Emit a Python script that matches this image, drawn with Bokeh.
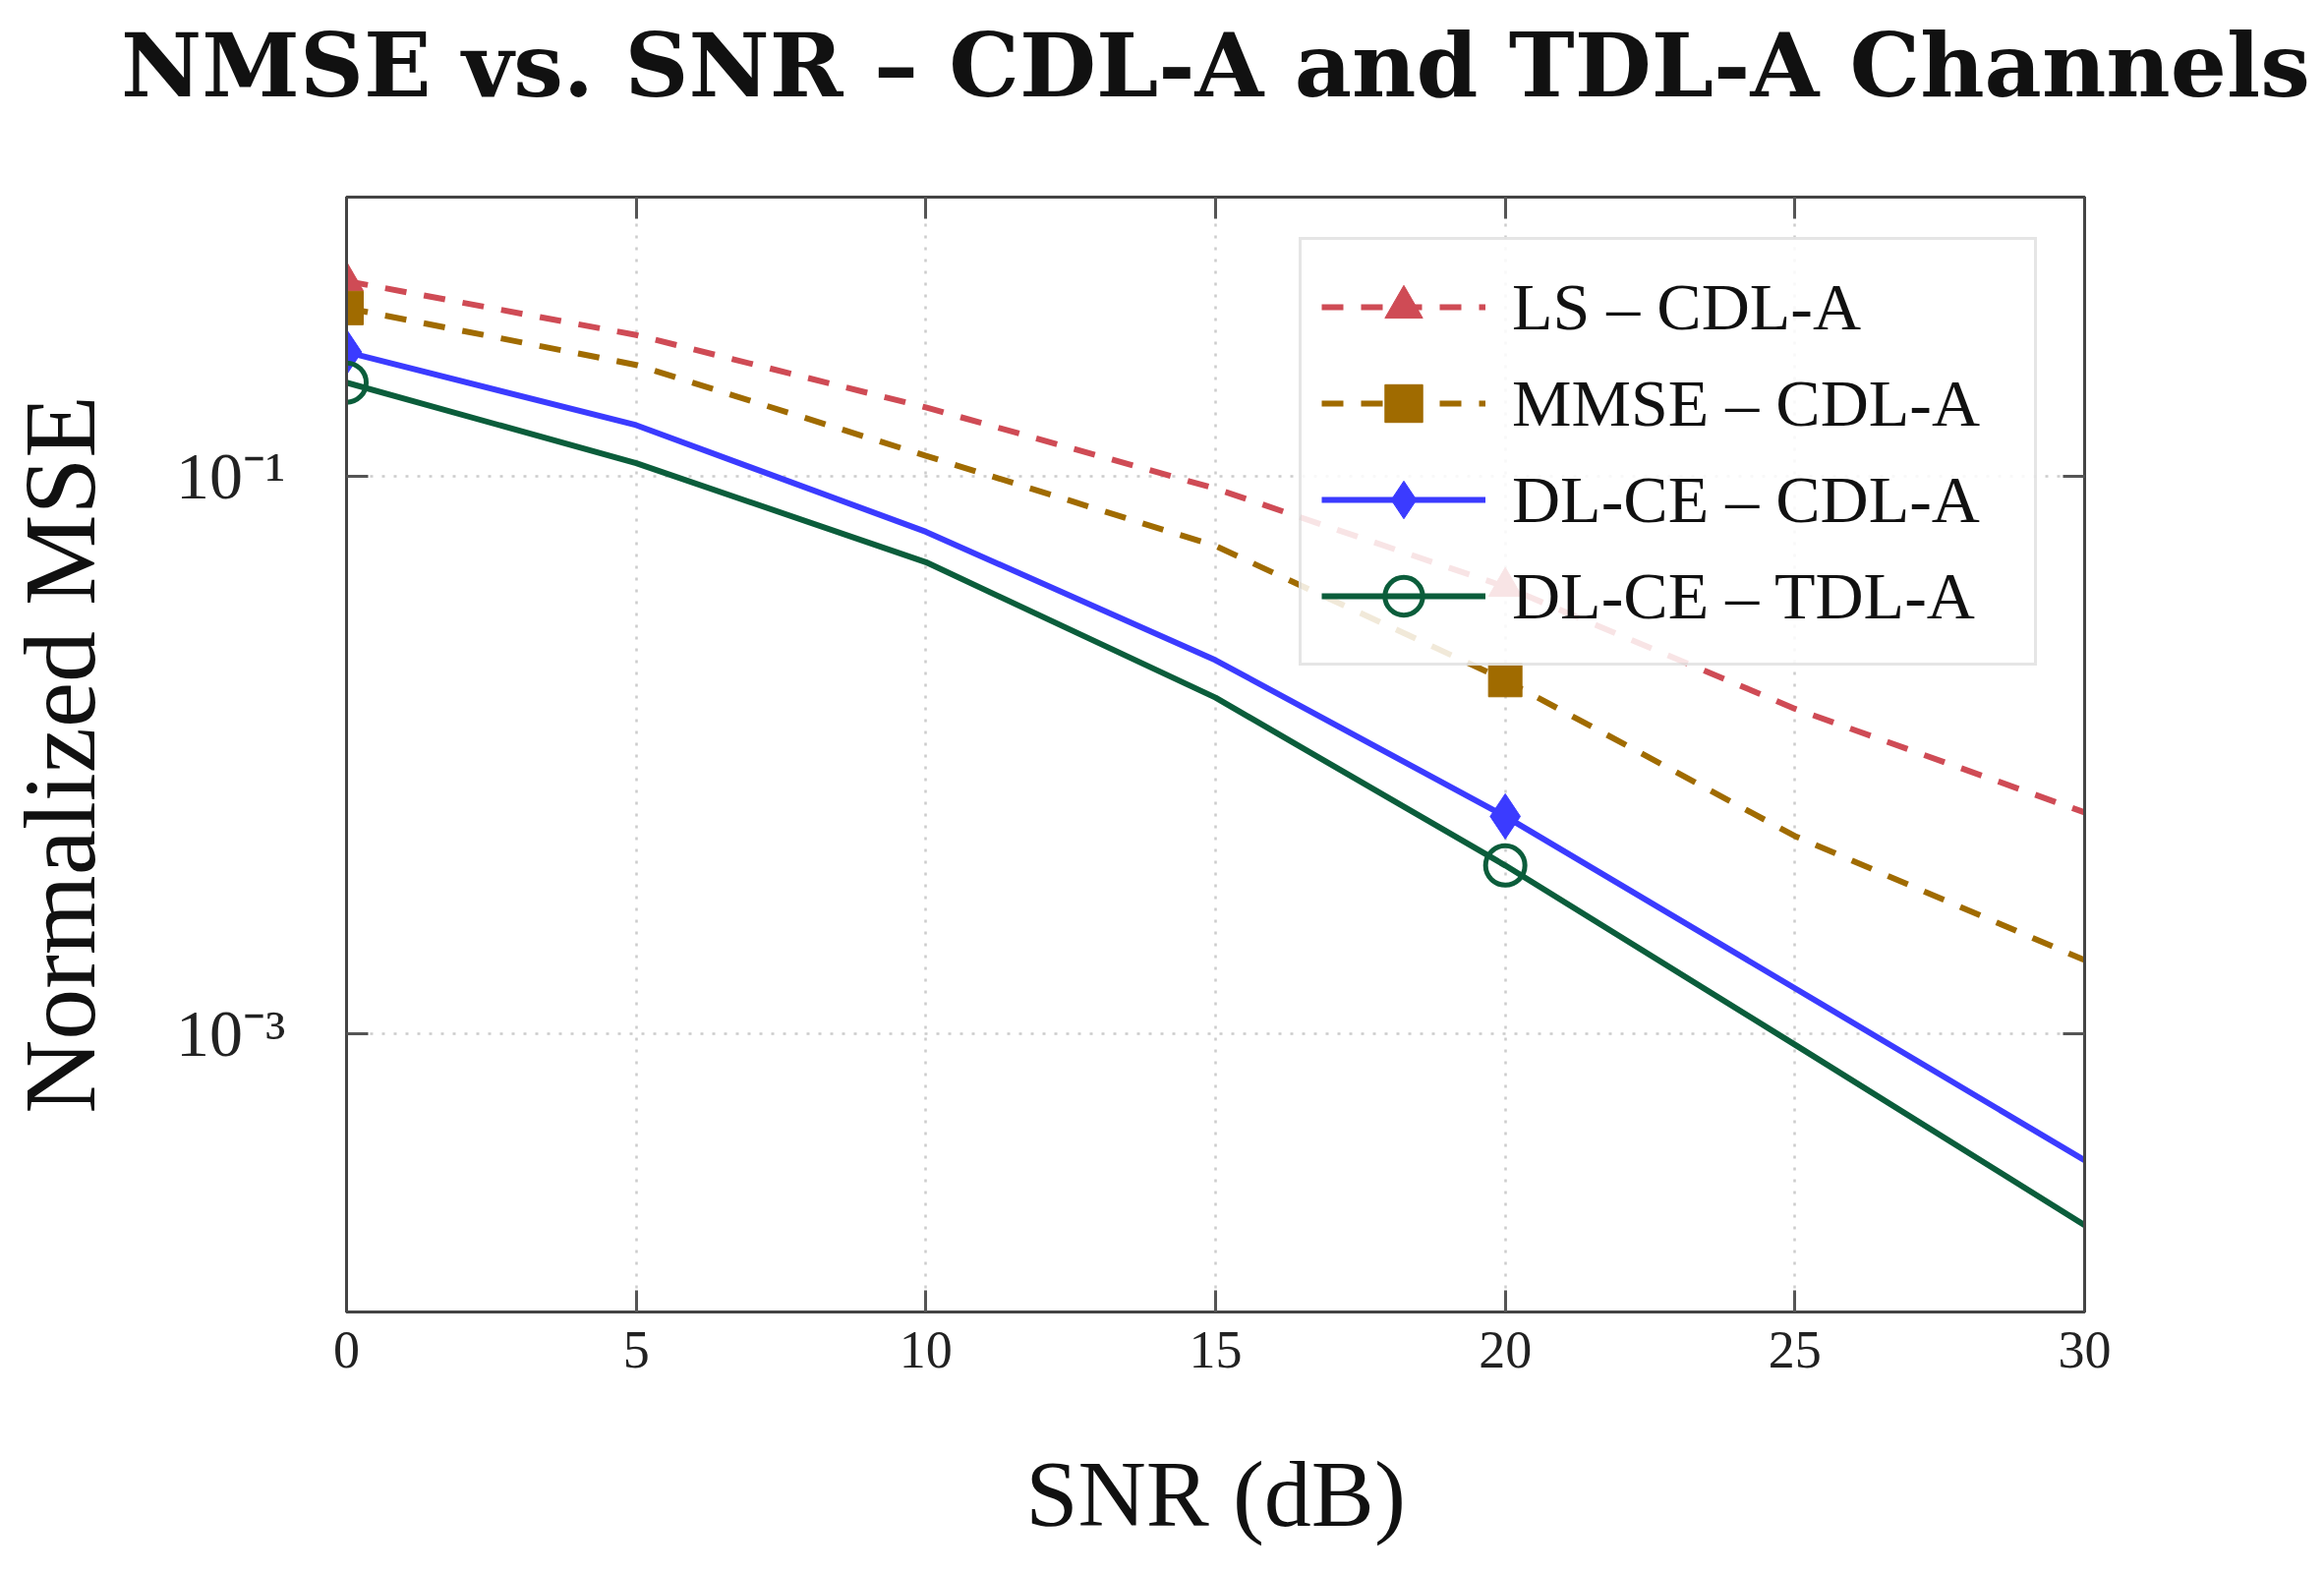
from bokeh.plotting import figure
from bokeh.layouts import column
from bokeh.models import LogAxis, LinearAxis, FixedTicker, Legend, LegendItem
from bokeh.embed import file_html
from bokeh.resources import INLINE

# ---- data ----
snr = [0, 5, 10, 15, 20, 25, 30]
ls_cdl = [0.50, 0.32, 0.176, 0.090, 0.040, 0.0146, 0.0062]
mmse_cdl = [0.40, 0.25, 0.118, 0.056, 0.0185, 0.0051, 0.00183]
dlce_cdl = [0.278, 0.152, 0.063, 0.0218, 0.0060, 0.00145, 0.00035]
dlce_tdl = [0.216, 0.111, 0.049, 0.016, 0.0040, 0.00091, 0.000205]
mark_idx = [0, 4]  # markers drawn every 4th point (0 dB and 20 dB)

x_ticks = [0, 5, 10, 15, 20, 25, 30]
y_ticks = [1e-3, 1e-1]
y_tick_labels = ["10\u207b\u00b3", "10\u207b\u00b9"]

labels = ["LS \u2013 CDL-A", "MMSE \u2013 CDL-A", "DL-CE \u2013 CDL-A", "DL-CE \u2013 TDL-A"]
title_text = "NMSE vs. SNR \u2013 CDL-A and TDL-A Channels"

SERIF = "Liberation Serif"
TITLE_H = 140

# ---- title strip ----
pt = figure(width=2364, height=TITLE_H, output_backend="svg", toolbar_location=None,
            x_axis_location=None, y_axis_location=None,
            min_border_left=352, min_border_right=244,
            min_border_top=118, min_border_bottom=0,
            outline_line_color=None, background_fill_color="white",
            border_fill_color="white")
pt.grid.visible = False
pt.title.text = title_text
pt.title.text_font = "DejaVu Serif"
pt.title.text_font_style = "bold"
pt.title.text_font_size = "90px"
pt.title.align = "center"
pt.title.text_color = "#111111"
pt.title.standoff = 0

# ---- main plot ----
p = figure(width=2364, height=1600 - TITLE_H, y_axis_type="log",
           x_range=(0, 30), y_range=(1e-4, 1.0),
           output_backend="svg", toolbar_location=None,
           min_border_left=352, min_border_right=244,
           min_border_top=200 - TITLE_H, min_border_bottom=266,
           background_fill_color="white", border_fill_color="white")

p.outline_line_color = "#444444"
p.outline_line_width = 3

bottom_ax = p.xaxis[0]
left_ax = p.yaxis[0]
bottom_ax.ticker = FixedTicker(ticks=x_ticks)
bottom_ax.axis_label = "SNR (dB)"
left_ax.ticker = FixedTicker(ticks=y_ticks)
left_ax.major_label_overrides = {v: t for v, t in zip(y_ticks, y_tick_labels)}
left_ax.axis_label = "Normalized MSE"

top_ax = LinearAxis(ticker=FixedTicker(ticks=x_ticks))
right_ax = LogAxis(ticker=FixedTicker(ticks=y_ticks))
p.add_layout(top_ax, "above")
p.add_layout(right_ax, "right")

for ax in [bottom_ax, left_ax, top_ax, right_ax]:
    ax.axis_line_color = "#444444"
    ax.axis_line_width = 3
    ax.major_tick_in = 22
    ax.major_tick_out = 0
    ax.major_tick_line_color = "#555555"
    ax.major_tick_line_width = 3
    ax.minor_tick_in = 0
    ax.minor_tick_out = 0
    ax.major_label_text_font = SERIF
    ax.major_label_text_font_size = "54px"
    ax.major_label_text_color = "#222222"
    ax.axis_label_text_font = SERIF
    ax.axis_label_text_font_style = "normal"
    ax.axis_label_text_font_size = "96px"
    ax.axis_label_text_color = "#111111"

for ax in [top_ax, right_ax]:
    ax.major_label_text_font_size = "10px"
    ax.major_label_text_color = None
    ax.major_label_standoff = 0

left_ax.major_label_text_font_size = "68px"
left_ax.axis_label_text_font_size = "104px"
bottom_ax.major_label_standoff = 20
bottom_ax.axis_label_standoff = 72
left_ax.major_label_standoff = 62
left_ax.axis_label_standoff = 58

p.xgrid.ticker = FixedTicker(ticks=x_ticks)
p.ygrid.ticker = FixedTicker(ticks=y_ticks)
for g in [p.xgrid, p.ygrid]:
    g.grid_line_color = "#cccccc"
    g.grid_line_dash = "3 9"
    g.grid_line_width = 2.5

series = [
    (ls_cdl, "#cf4b55", "22 18", "triangle", 34, True),
    (mmse_cdl, "#a06b00", "22 18", "square", 34, True),
    (dlce_cdl, "#3b3bff", "solid", "diamond", 46, True),
    (dlce_tdl, "#0b5d3b", "solid", "circle", 40, False),
]

items = []
for (vals, col, dash, mk, sz, filled), lab in zip(series, labels):
    lr = p.line(snr, vals, line_color=col, line_width=6, line_dash=dash)
    mx = [snr[i] for i in mark_idx]
    my = [vals[i] for i in mark_idx]
    if filled:
        sr = p.scatter(mx, my, marker=mk, size=sz, fill_color=col, line_color=col, line_width=1)
    else:
        sr = p.scatter(mx, my, marker=mk, size=sz, fill_color=None, line_color=col, line_width=5)
    items.append(LegendItem(label=lab, renderers=[lr, sr]))

legend = Legend(items=items, location=(969, 657))
legend.glyph_width = 167
legend.glyph_height = 96
legend.label_height = 64
legend.label_width = 511
legend.spacing = 2
legend.padding = 20
legend.margin = 0
legend.label_standoff = 27
legend.label_text_font = SERIF
legend.label_text_font_size = "68px"
legend.label_text_color = "#111111"
legend.border_line_color = "#cccccc"
legend.border_line_width = 3
legend.background_fill_color = "white"
legend.background_fill_alpha = 0.85
p.add_layout(legend)

layout = column(pt, p, spacing=0)
open("out.html", "w").write(file_html(layout, INLINE))
